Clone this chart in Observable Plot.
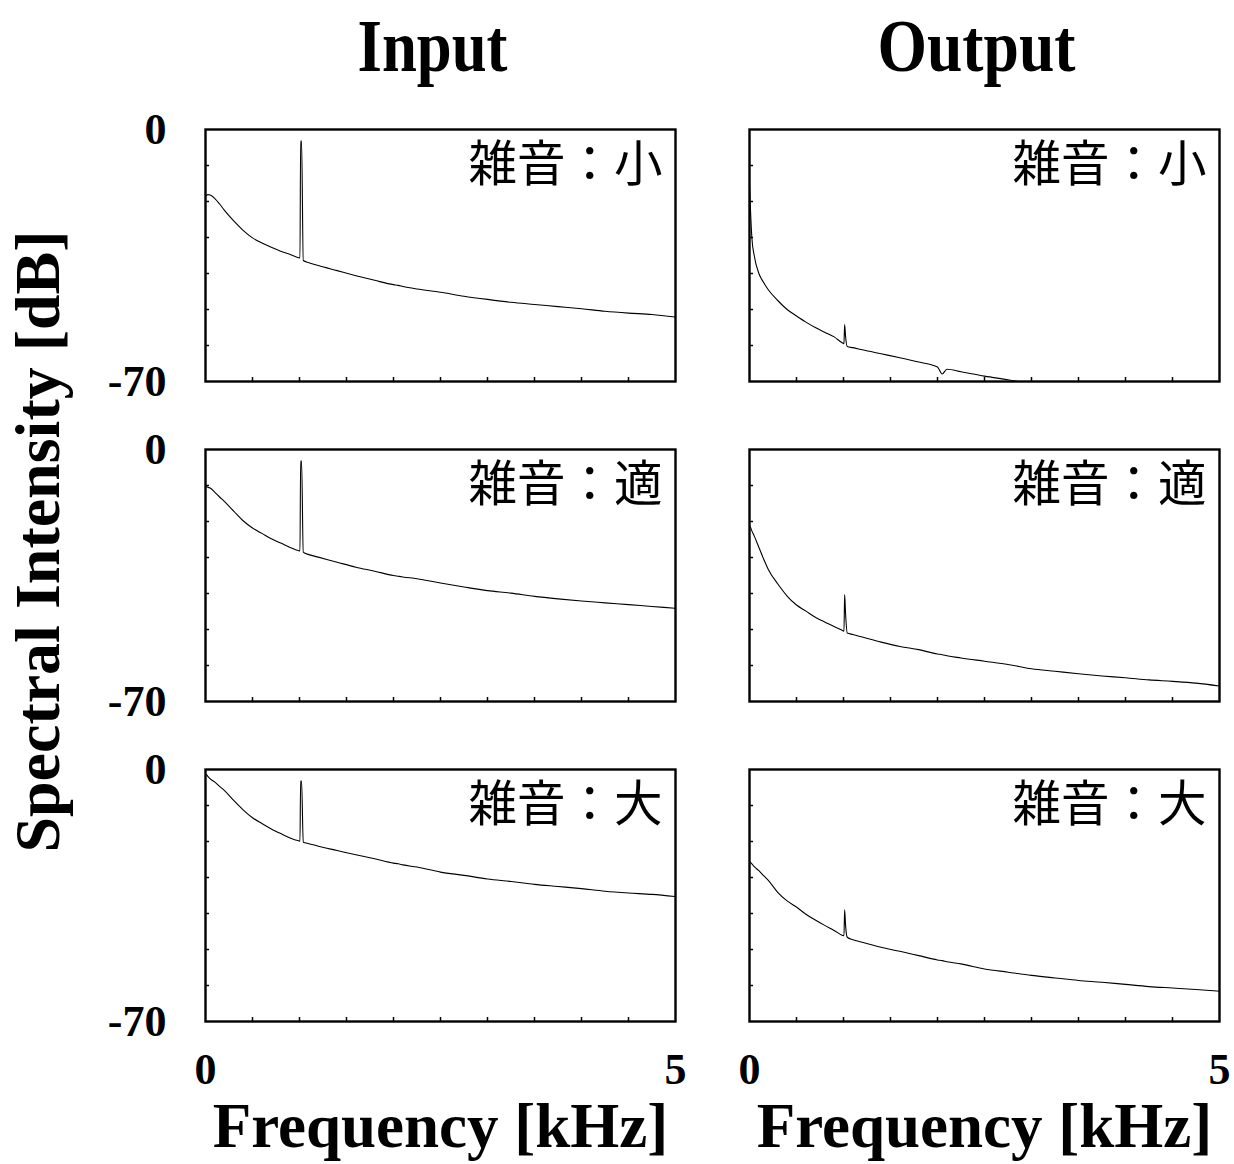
<!DOCTYPE html>
<html><head><meta charset="utf-8">
<script src="https://cdn.jsdelivr.net/npm/d3@7"></script>
<script src="https://cdn.jsdelivr.net/npm/@observablehq/plot@0.6"></script>
<style>body{margin:0;background:#fff}</style>
</head><body><div id="chart"></div>
<script>
// ---- data ----
const columns = ["Input", "Output"];
const noiseLevels = ["小", "適", "大"];
const panelPrefix = "雑音：";
const xLabel = "Frequency [kHz]";
const yLabel = "Spectral Intensity [dB]";
const xTicks = [0.5, 1, 1.5, 2, 2.5, 3, 3.5, 4, 4.5];
const yTicks = [-10, -20, -30, -40, -50, -60];
const xLabelTicks = [0, 5];
const yLabelTicks = [0, -70];

const freqKHz = [0, 0.01, 0.025, 0.05, 0.1, 0.15, 0.2, 0.3, 0.4, 0.5, 0.6, 0.7, 0.8, 0.9, 0.99,
  1.005, 1.012, 1.022, 1.04, 1.1, 1.2, 1.4, 1.6, 1.8, 2.0, 2.05, 2.1, 2.25, 2.5, 2.75,
  3.0, 3.25, 3.5, 3.75, 4.0, 4.25, 4.5, 4.75, 5.0];

const inputSmall = [-18.4, -18.3, -18.1, -18.2, -19.2, -20.7, -22.4, -25.4, -28.0, -30.1, -31.5, -32.7, -33.8, -34.7, -35.6,
  -35.7, -3.2, -3.2, -36.4, -37.0, -37.8, -39.2, -40.6, -41.9, -43.1, -43.3, -43.6, -44.3, -45.2, -46.3,
  -47.2, -48.0, -48.6, -49.2, -49.8, -50.5, -51.0, -51.4, -52.1];
const outputSmall = [-15.5, -22.0, -30.0, -35.0, -40.0, -42.5, -44.5, -47.5, -50.0, -51.8, -53.5, -55.0, -56.3, -57.6, -59.3,
  -59.5, -54.2, -57.5, -60.3, -60.6, -61.2, -62.3, -63.4, -64.6, -66.0, -67.9, -66.6, -67.3, -68.5, -69.5,
  -70.6, -71.0, -71.5, -72.0, -72.5, -72.8, -73.1, -73.4, -73.7];
const inputMid = [-10.4, -10.3, -10.5, -10.7, -11.9, -13.2, -14.4, -17.1, -19.8, -21.8, -23.3, -24.8, -26.0, -27.2, -28.1,
  -28.2, -3.2, -3.2, -28.5, -29.2, -29.9, -31.3, -32.7, -33.8, -35.0, -35.2, -35.4, -35.9, -37.1, -38.2,
  -39.2, -39.9, -40.8, -41.5, -42.1, -42.6, -43.1, -43.6, -44.1];
const outputMid = [-21.2, -21.6, -22.6, -24.0, -27.2, -30.4, -33.3, -37.3, -40.7, -43.2, -44.9, -46.6, -47.9, -49.2, -50.3,
  -50.5, -40.3, -45.6, -51.0, -51.4, -52.1, -53.5, -54.7, -55.6, -56.8, -57.0, -57.3, -57.9, -58.8, -59.7,
  -60.9, -61.6, -62.3, -62.9, -63.4, -64.0, -64.4, -64.9, -65.7];
const inputLarge = [-1.3, -1.4, -1.9, -2.6, -3.5, -4.7, -5.8, -8.6, -11.2, -13.4, -15.0, -16.5, -17.8, -19.0, -19.8,
  -19.9, -3.2, -3.2, -20.2, -20.6, -21.3, -22.5, -23.7, -24.8, -26.0, -26.2, -26.5, -27.1, -28.5, -29.4,
  -30.4, -31.1, -31.9, -32.5, -33.1, -33.8, -34.3, -34.7, -35.3];
const outputLarge = [-25.6, -25.8, -26.2, -27.0, -28.1, -29.5, -30.8, -34.1, -36.5, -38.2, -40.2, -41.8, -43.3, -44.7, -46.1,
  -46.2, -39.0, -43.3, -46.6, -47.3, -48.0, -49.4, -50.5, -51.7, -52.9, -53.1, -53.4, -54.0, -55.4, -56.3,
  -57.2, -57.9, -58.6, -59.1, -59.7, -60.3, -60.7, -61.1, -61.6];

// ---- tables built from the arrays ----
const series = [
  {col: columns[0], row: noiseLevels[0], values: inputSmall},
  {col: columns[1], row: noiseLevels[0], values: outputSmall},
  {col: columns[0], row: noiseLevels[1], values: inputMid},
  {col: columns[1], row: noiseLevels[1], values: outputMid},
  {col: columns[0], row: noiseLevels[2], values: inputLarge},
  {col: columns[1], row: noiseLevels[2], values: outputLarge}
];
const rows = series.flatMap(s => freqKHz.map((f, i) => ({col: s.col, row: s.row, f, db: s.values[i]})));
const panels = series.map(s => ({col: s.col, row: s.row, label: panelPrefix + s.row}));

const serif = "'Liberation Serif','Times New Roman',Times,serif";
const cjk = "'Noto Sans CJK JP','Noto Sans CJK SC',sans-serif";
const titleWidths = {Input: 150, Output: 198};

const plot = Plot.plot({
  width: 1234, height: 1164,
  marginLeft: 205, marginRight: 15, marginTop: 129, marginBottom: 143,
  style: {fontFamily: serif, background: "#fff", color: "#000"},
  x: {domain: [0, 5], axis: null},
  y: {domain: [-70, 0], axis: null},
  fx: {domain: columns, paddingInner: 74 / 544, paddingOuter: 0, axis: null, label: null},
  fy: {domain: noiseLevels, paddingInner: 136 / 640, paddingOuter: 0, axis: null, label: null},
  marks: [
    Plot.tickX(xTicks, {x: d => d, insetTop: 248, strokeWidth: 1.5, stroke: "#000"}),
    Plot.tickY(yTicks, {y: d => d, insetRight: 466, strokeWidth: 1.5, stroke: "#000"}),
    Plot.line(rows, {x: "f", y: "db", fx: "col", fy: "row", curve: "monotone-x", strokeWidth: 1.1, stroke: "#000", clip: true}),
    Plot.frame({strokeWidth: 2.4, stroke: "#000"}),
    Plot.axisX({ticks: xLabelTicks, tickSize: 0, tickPadding: 31, tickFormat: String, fontSize: 44, fontWeight: "bold", label: null}),
    Plot.axisY({ticks: yLabelTicks, tickSize: 0, tickPadding: 39, tickFormat: String, fontSize: 44, fontWeight: "bold", label: null}),
    Plot.text(panels, {fx: "col", fy: "row", text: "label", frameAnchor: "top-left", textAnchor: "start", lineAnchor: "bottom", dx: 263, dy: 51, fontSize: 48.5, fontFamily: cjk, fill: "#000"}),
    Plot.text(columns, {fx: d => d, fy: () => noiseLevels[0], text: d => d, frameAnchor: "top", textAnchor: "middle", lineAnchor: "bottom", dx: -8, dy: -59, fontSize: 75, fontWeight: "bold", fill: "#000"}),
    Plot.text(columns, {fx: d => d, fy: () => noiseLevels[2], text: () => xLabel, frameAnchor: "bottom", textAnchor: "middle", lineAnchor: "bottom", dy: 125, fontSize: 63, fontWeight: "bold", fill: "#000"}),
    Plot.text([yLabel], {fx: () => columns[0], fy: () => noiseLevels[1], text: d => d, frameAnchor: "left", textAnchor: "middle", rotate: -90, dx: -167, dy: -34, fontSize: 64, fontWeight: "bold", fill: "#000"})
  ]
});

plot.querySelectorAll("text").forEach(t => {
  const w = titleWidths[t.textContent];
  if (w) { t.setAttribute("textLength", w); t.setAttribute("lengthAdjust", "spacingAndGlyphs"); }
});

document.getElementById("chart").appendChild(plot);
</script>
</body></html>
